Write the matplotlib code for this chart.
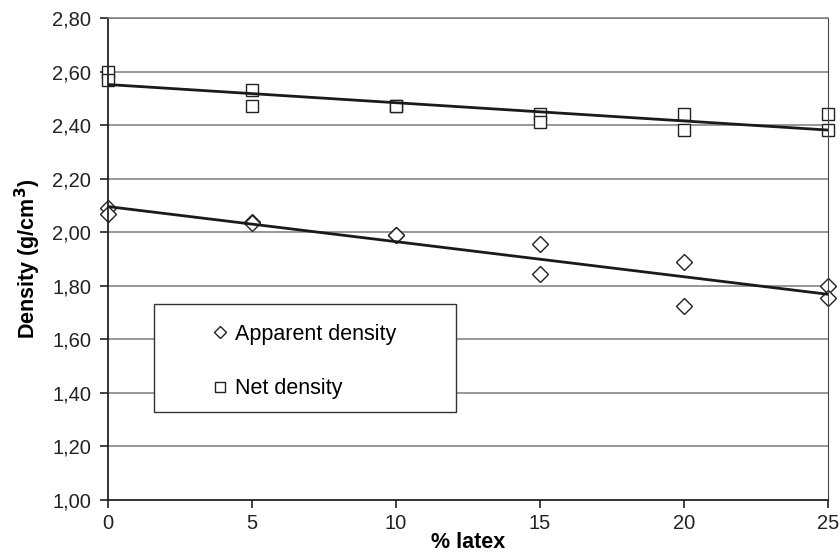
import numpy as np
import matplotlib.pyplot as plt
from matplotlib.patches import Rectangle

plt.rcParams['font.family'] = ['Liberation Sans', 'DejaVu Sans']

# two measurements per latex content
latex = [0, 0, 5, 5, 10, 10, 15, 15, 20, 20, 25, 25]
apparent = [2.09, 2.07, 2.04, 2.035, 1.99, 1.99, 1.955, 1.845, 1.89, 1.725, 1.80, 1.755]
net = [2.60, 2.57, 2.53, 2.47, 2.47, 2.47, 2.44, 2.41, 2.44, 2.38, 2.44, 2.38]

yticks = [1.0, 1.2, 1.4, 1.6, 1.8, 2.0, 2.2, 2.4, 2.6, 2.8]
xticks = [0, 5, 10, 15, 20, 25]

fig = plt.figure(figsize=(8.4, 5.58), dpi=100)
ax = fig.add_axes([0.1286, 0.1039, 0.857, 0.8638])

for y in yticks[1:]:
    ax.axhline(y, color='#7a7a7a', lw=1.1, zorder=1)

# least-squares trend lines
xs = np.array([0, 25])
for vals in (apparent, net):
    k, b = np.polyfit(latex, vals, 1)
    ax.plot(xs, k * xs + b, color='#1a1a1a', lw=2.0, zorder=3)

ax.plot(latex, apparent, linestyle='none', marker='D', markersize=8,
        markerfacecolor='white', markeredgecolor='#222222', markeredgewidth=1.0,
        label='Apparent density', zorder=2, clip_on=False)
ax.plot(latex, net, linestyle='none', marker='s', markersize=8.5,
        markerfacecolor='white', markeredgecolor='#222222', markeredgewidth=1.0,
        label='Net density', zorder=2, clip_on=False)

ax.set_xlim(0, 25)
ax.set_ylim(1.0, 2.8)
ax.set_xticks(xticks)
ax.set_yticks(yticks)
ax.set_yticklabels([f'{v:.2f}'.replace('.', ',') for v in yticks])
ax.tick_params(direction='out', length=6, width=1.2, labelsize=14.5,
               colors='#222222', pad=6)
ax.tick_params(axis='x', pad=4)

for side in ('left', 'bottom'):
    ax.spines[side].set_color('#222222')
    ax.spines[side].set_linewidth(1.3)
ax.spines['right'].set_color('#444444')
ax.spines['top'].set_color('#7a7a7a')
ax.spines['top'].set_linewidth(1.1)

ax.set_xlabel('% latex', fontsize=15.5, fontweight='bold', labelpad=-1)
ax.set_ylabel('Density (g/cm$^\\mathbf{3}$)', fontsize=15.5, fontweight='bold', labelpad=7)

# legend box
ax.add_patch(Rectangle((0.0635, 0.1826), 0.42, 0.224, transform=ax.transAxes,
                       facecolor='white', edgecolor='#333333', lw=1.0, zorder=4))
ax.legend(loc='upper left', bbox_to_anchor=(0.13, 0.388), frameon=False,
          fontsize=15.5, handlelength=0.7, handletextpad=0.35, labelspacing=1.55,
          borderpad=0, markerscale=0.8)

fig.savefig('out.png', dpi=100)
